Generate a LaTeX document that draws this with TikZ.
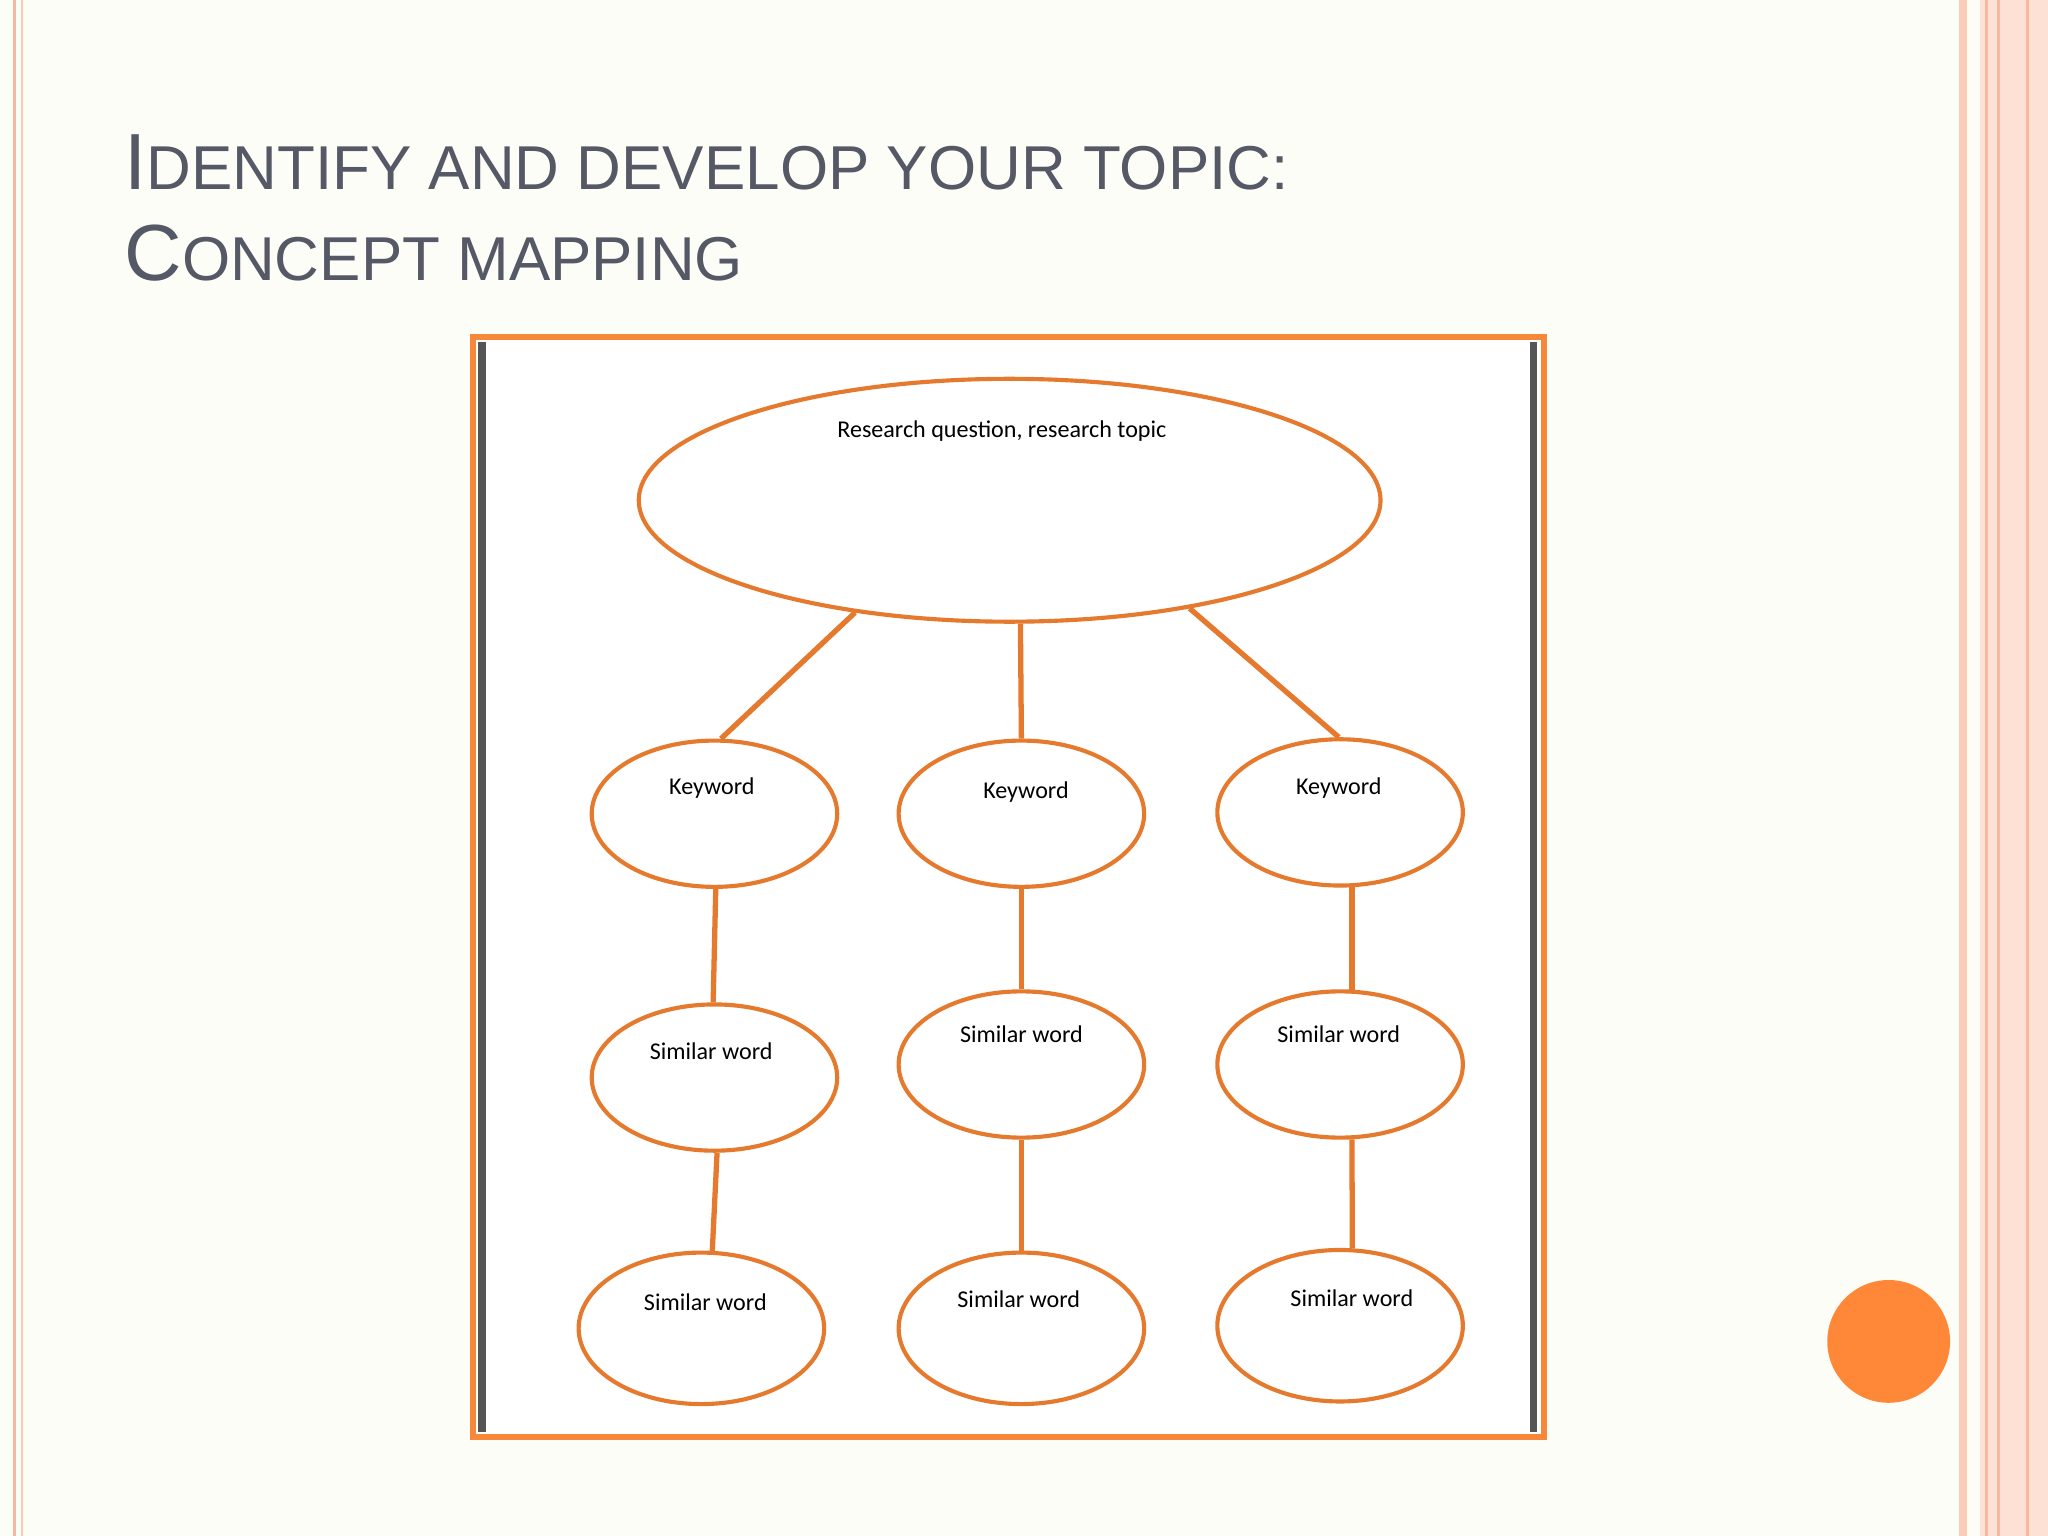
\documentclass[tikz,border=0pt]{standalone}
\usepackage{fontspec}
\setmainfont{Liberation Sans}
\newfontfamily\calfont{Carlito}
\usetikzlibrary{shapes.geometric}
\definecolor{bgc}{HTML}{FDFDF8}
\definecolor{sal}{HTML}{F6B8A0}
\definecolor{sal2}{HTML}{FBCDB8}
\definecolor{ttl}{HTML}{555865}
\definecolor{org}{HTML}{E57A2E}
\definecolor{frm}{HTML}{F7883A}
\definecolor{dot}{HTML}{FF8838}
\definecolor{dgr}{HTML}{555555}
\newcommand{\bigc}[1]{{\fontsize{34.7}{40}\selectfont #1}}
\newcommand{\smc}[1]{{\fontsize{27}{32}\selectfont #1}}
\newcommand{\up}[3]{\raisebox{#1}[0pt][0pt]{\makebox[0pt]{\hspace*{#2}#3}}}
\begin{document}
\begin{tikzpicture}[x=0.02cm,y=-0.02cm,
  ell/.style={ellipse,draw=org,line width=1.8pt,minimum width=3.76cm,minimum height=2.24cm,inner sep=0pt,font=\calfont\fontsize{10.5}{12}\selectfont},
  conn/.style={draw=org,line width=2.3pt}]
\fill[bgc] (0,0) rectangle (1568,1176);
\useasboundingbox (0,0) rectangle (1568,1176);
% left border lines
\draw[sal,line width=1.5pt] (11,0)--(11,1176);
\draw[sal2,line width=1pt] (17,0)--(17,1176);
% right stripes
\fill[sal2] (1500,0) rectangle (1506,1176);
\fill[sal2!60] (1516,0) rectangle (1568,1176);
\draw[sal,line width=1.2pt] (1521,0)--(1521,1176);
\draw[sal,line width=1.2pt] (1530,0)--(1530,1176);
\draw[sal,line width=1.2pt] (1552,0)--(1552,1176);
% title
\node[anchor=base west,text=ttl,inner sep=0pt] (t1) at (95,145) {\bigc{I}\smc{DENTIFY AND DEVELOP YOUR TOPIC:}};
\node[anchor=base west,text=ttl,inner sep=0pt] (t2) at (95,215) {\bigc{C}\smc{ONCEPT MAPPING}};
% frame
\fill[white] (362,258) rectangle (1182,1100);
\draw[dgr,line width=3.2pt] (369,262)--(369,1096);
\draw[dgr,line width=3.2pt] (1174,262)--(1174,1096);
\draw[frm,line width=2.8pt] (362,258) rectangle (1182,1100);
% nodes
\node[ell,minimum width=11.36cm,minimum height=3.72cm] (rq) at (773,383) {\up{0.96cm}{-0.24cm}{Research question, research topic}};
\node[ell] (k1) at (547,623) {\up{0.3cm}{-0.08cm}{Keyword}};
\node[ell] (k2) at (782,623) {\up{0.24cm}{0.14cm}{Keyword}};
\node[ell] (k3) at (1026,622) {\up{0.28cm}{-0.04cm}{Keyword}};
\node[ell] (s1) at (547,825) {\up{0.28cm}{-0.1cm}{Similar word}};
\node[ell] (s2) at (782,815) {\up{0.34cm}{0cm}{Similar word}};
\node[ell] (s3) at (1026,815) {\up{0.34cm}{-0.04cm}{Similar word}};
\node[ell,minimum height=2.32cm] (w1) at (537,1017) {\up{0.28cm}{0.12cm}{Similar word}};
\node[ell,minimum height=2.32cm] (w2) at (782,1017) {\up{0.32cm}{-0.08cm}{Similar word}};
\node[ell,minimum height=2.32cm] (w3) at (1026,1015) {\up{0.3cm}{0.36cm}{Similar word}};
% connectors
\draw[conn] (rq.216) -- (k1.85);
\draw[conn] (rq.275) -- (k2.north);
\draw[conn] (rq.329) -- (k3.91);
\draw[conn] (k1.271) -- (s1.91);
\draw[conn] (s1.272) -- (w1.82);
\draw[conn] (k2.270) -- (s2.90);
\draw[conn] (s2.270) -- (w2.90);
\draw[conn] (k3.279) -- (s3.81);
\draw[conn] (s3.279) -- (w3.81);
% dot
\fill[dot] (1446,1027) circle (47);
\end{tikzpicture}
\end{document}
